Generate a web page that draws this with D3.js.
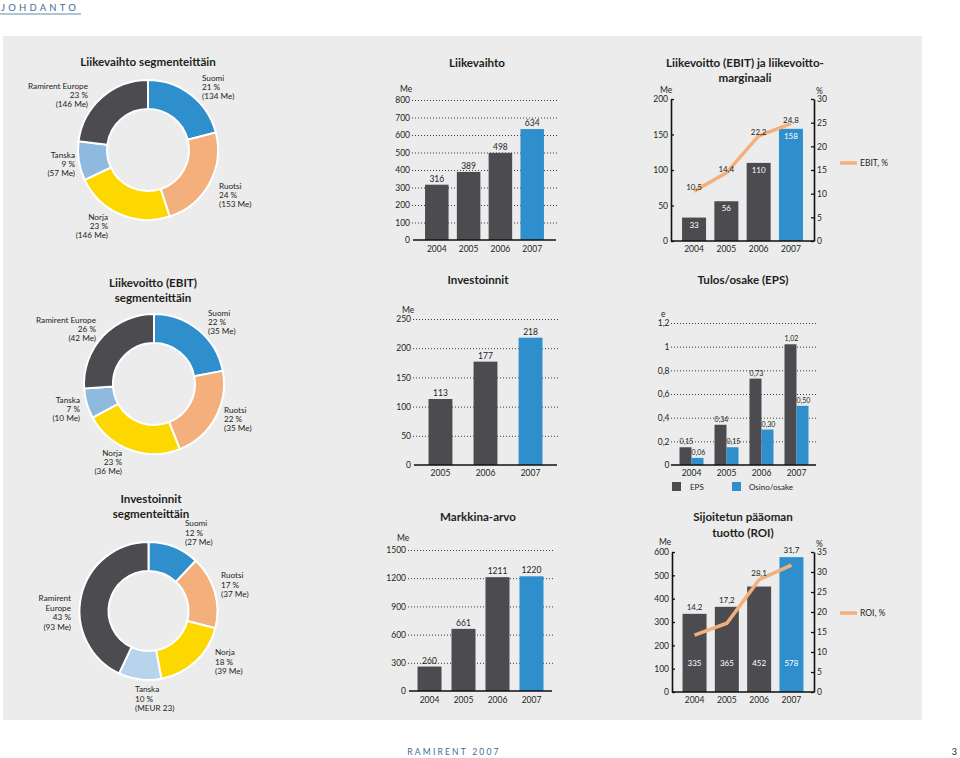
<!DOCTYPE html>
<html><head><meta charset="utf-8">
<script src="https://cdn.jsdelivr.net/npm/d3@7"></script>
<style>
html,body{margin:0;padding:0;background:#fff;}
svg{display:block;}
</style></head><body>
<svg id="c" width="960" height="758"></svg>
<script>
// ---------- DATA ----------
const segments = ["Suomi","Ruotsi","Norja","Tanska","Ramirent Europe"];
const revSegPct = [21,24,23,9,23];
const revSegMe = [134,153,146,57,146];
const ebitSegPct = [22,22,23,7,26];
const ebitSegMe = [35,35,36,10,42];
const invSegPct = [12,17,18,10,43];
const invSegMe = [27,37,39,23,93];
const years = ["2004","2005","2006","2007"];
const revenue = [316,389,498,634];
const revenueTicks = [0,100,200,300,400,500,600,700,800];
const ebit = [33,56,110,158];
const ebitMargin = [10.5,14.4,22.2,24.8];
const ebitTicks = [0,50,100,150,200];
const pctTicks30 = [0,5,10,15,20,25,30];
const investYears = ["2005","2006","2007"];
const investments = [113,177,218];
const investTicks = [0,50,100,150,200,250];
const eps = [0.15,0.34,0.73,1.02];
const dividend = [0.06,0.15,0.30,0.50];
const epsTicks = [0,0.2,0.4,0.6,0.8,1,1.2];
const epsSeries = ["EPS","Osino/osake"];
const marketCap = [260,661,1211,1220];
const marketTicks = [0,300,600,900,1200,1500];
const capital = [335,365,452,578];
const roi = [14.2,17.2,28.1,31.7];
const capitalTicks = [0,100,200,300,400,500,600];
const pctTicks35 = [0,5,10,15,20,25,30,35];

// ---------- STYLE ----------
const FONT = "Lato, 'Open Sans', sans-serif";
const C = {dark:"#4c4b50", blue:"#2f8fcd", peach:"#f3b07c", yellow:"#fdd800",
  lightblue:"#8fbae0", paleblue:"#b8d3ec", bg:"#ececec", text:"#231f20", line:"#f4b07c", brand:"#3d6d96"};
const comma = v => String(v).replace(".", ",");
const f1 = v => d3.format(".1f")(v).replace(".", ",");
const f2 = v => d3.format(".2f")(v).replace(".", ",");

const svg = d3.select("#c").style("font-family", FONT);

// header / footer / panel
svg.append("text").attr("x",1).attr("y",11).attr("fill",C.brand)
  .style("font-size","9.5px").style("letter-spacing","3.2px").text("JOHDANTO");
svg.append("line").attr("x1",0).attr("x2",81).attr("y1",14).attr("y2",14)
  .attr("stroke",C.brand).attr("stroke-width",0.8);
svg.append("rect").attr("x",3).attr("y",36).attr("width",919).attr("height",684).attr("fill",C.bg);
svg.append("text").attr("x",454).attr("y",755).attr("text-anchor","middle").attr("fill",C.brand)
  .style("font-size","8.5px").style("letter-spacing","2.2px").text("RAMIRENT 2007");
svg.append("text").attr("x",957).attr("y",755).attr("text-anchor","end").attr("fill",C.text)
  .style("font-size","9px").text("3");

function title(lines, x, y, lh){
  lines.forEach((t,i)=>svg.append("text").attr("x",x).attr("y",y+i*lh)
    .attr("text-anchor","middle").attr("fill",C.text)
    .style("font-size","11.6px").style("font-weight","bold").text(t));
}
function multi(lines, x, y, anchor, lh, size){
  const t = svg.append("text").attr("text-anchor",anchor).attr("fill",C.text).style("font-size",(size||8.2)+"px");
  lines.forEach((s,i)=>t.append("tspan").attr("x",x).attr("y",y+i*lh).text(s));
}

// ---------- DONUTS ----------
function donut(cx, cy, rOut, rIn, pct, me, colors, labelPos, meFmt){
  const g = svg.append("g").attr("transform",`translate(${cx},${cy})`);
  const pie = d3.pie().sort(null).value(d=>d)(pct);
  const arc = d3.arc().innerRadius(rIn).outerRadius(rOut);
  g.selectAll("path").data(pie).join("path").attr("d",arc)
    .attr("fill",(d,i)=>colors[i]).attr("stroke","#fff").attr("stroke-width",2);
  labelPos.forEach((p,i)=>{
    const nameLines = p.name || [segments[i]];
    const meTxt = meFmt ? meFmt(i) : `(${me[i]} Me)`;
    multi([...nameLines, `${pct[i]} %`, meTxt], p.x, p.y, p.a, p.lh || 9.2);
  });
}
const segColors1 = [C.blue,C.peach,C.yellow,C.lightblue,C.dark];
const segColors3 = [C.blue,C.peach,C.yellow,C.paleblue,C.dark];

title(["Liikevaihto segmenteittäin"],148,66,14);
donut(148,150,70,41,revSegPct,revSegMe,segColors1,[
  {x:202,y:81,a:"start"},{x:219,y:189,a:"start"},{x:108,y:220,a:"end"},
  {x:75,y:158,a:"end"},{x:88,y:89,a:"end"}]);

title(["Liikevoitto (EBIT)","segmenteittäin"],153,287,14.5);
donut(154,384,70,41,ebitSegPct,ebitSegMe,segColors1,[
  {x:208,y:316,a:"start"},{x:224,y:413,a:"start"},{x:122,y:456,a:"end"},
  {x:80,y:403,a:"end"},{x:96,y:323,a:"end"}]);

title(["Investoinnit","segmenteittäin"],151,503,14.5);
donut(148.5,611,69,40,invSegPct,invSegMe,segColors3,[
  {x:185,y:526,a:"start",lh:9.5},{x:221,y:578,a:"start",lh:9.5},{x:215,y:655,a:"start",lh:9.5},
  {x:135,y:692,a:"start",lh:9.5},{x:71,y:601,a:"end",lh:9.5,name:["Ramirent","Europe"]}],
  i => segments[i]==="Tanska" ? `(MEUR ${invSegMe[i]})` : `(${invSegMe[i]} Me)`);

// ---------- SIMPLE BAR CHARTS ----------
function styleAxisText(g, size){
  g.selectAll("text").attr("fill",C.text).style("font-size",(size||8.5)+"px").style("font-family",FONT);
}
function dottedGrid(y, ticks, x0, x1, fmt, pad){
  const ga = svg.append("g").attr("transform",`translate(${x0},0)`)
    .call(d3.axisLeft(y).tickValues(ticks).tickSize(-(x1-x0)).tickPadding(pad||2).tickFormat(fmt||comma));
  ga.select(".domain").remove();
  ga.selectAll(".tick line").attr("stroke","#3a3a3a").attr("stroke-width",1).attr("stroke-dasharray","1,2")
    .filter(d=>d===0).remove();
  styleAxisText(ga);
  return ga;
}
function xLabels(x, yBot, pad){
  const gx = svg.append("g").attr("transform",`translate(0,${yBot})`)
    .call(d3.axisBottom(x).tickSize(0).tickPadding(pad||6));
  gx.select(".domain").remove();
  styleAxisText(gx);
}
function baseline(x0,x1,y){
  svg.append("line").attr("x1",x0).attr("x2",x1).attr("y1",y).attr("y2",y)
    .attr("stroke","#111").attr("stroke-width",1.4);
}
function unitText(u){
  svg.append("text").attr("x",u.x).attr("y",u.y).attr("fill",C.text).style("font-size","8.5px").text(u.t);
}
function barChart(o){
  const y = d3.scaleLinear([0,o.max],[o.yBot,o.yTop]);
  const x = d3.scaleBand(o.cats,[o.x0,o.x1]).paddingInner(o.pi).paddingOuter(o.po);
  dottedGrid(y, o.ticks, o.x0, o.x1);
  unitText(o.unit);
  svg.append("g").selectAll("rect").data(o.vals).join("rect")
    .attr("x",(d,i)=>x(o.cats[i])).attr("width",x.bandwidth())
    .attr("y",d=>y(d)).attr("height",d=>o.yBot-y(d))
    .attr("fill",(d,i)=>i===o.vals.length-1?C.blue:C.dark);
  svg.append("g").selectAll("text").data(o.vals).join("text")
    .attr("x",(d,i)=>x(o.cats[i])+x.bandwidth()/2).attr("y",d=>y(d)-3)
    .attr("text-anchor","middle").attr("fill",C.text).style("font-size","8.5px").text(d=>d);
  xLabels(x, o.yBot, o.xPad);
  baseline(o.x0+1, o.x1-1, o.yBot);
}

title(["Liikevaihto"],477,67,14);
barChart({x0:412,x1:557,yTop:100,yBot:240,max:800,ticks:revenueTicks,cats:years,vals:revenue,
  pi:0.26,po:0.41,unit:{x:400,y:92,t:"Me"}});

title(["Investoinnit"],478,284,14);
barChart({x0:413,x1:558,yTop:319,yBot:465,max:250,ticks:investTicks,cats:investYears,vals:investments,
  pi:0.47,po:0.345,unit:{x:402,y:313,t:"Me"},xPad:5});

title(["Markkina-arvo"],478,521,14);
barChart({x0:408,x1:553,yTop:550,yBot:691,max:1500,ticks:marketTicks,cats:years,vals:marketCap,
  pi:0.294,po:0.28,unit:{x:397,y:541,t:"Me"}});

// ---------- EPS GROUPED ----------
(function(){
  const x0=671, x1=817, yTop=323, yBot=465;
  title(["Tulos/osake (EPS)"],743,284,14);
  const y = d3.scaleLinear([0,1.2],[yBot,yTop]);
  const x = d3.scaleBand(years,[x0,x1]).paddingInner(0.314).paddingOuter(0.243);
  const xi = d3.scaleBand(epsSeries,[0,x.bandwidth()]);
  dottedGrid(y, epsTicks, x0, x1, comma, 1.5);
  unitText({x:661,y:317,t:"e"});
  const series = [eps, dividend];
  const cols = [C.dark, C.blue];
  series.forEach((vals,s)=>{
    svg.append("g").selectAll("rect").data(vals).join("rect")
      .attr("x",(d,i)=>x(years[i])+xi(epsSeries[s])).attr("width",xi.bandwidth())
      .attr("y",d=>y(d)).attr("height",d=>yBot-y(d)).attr("fill",cols[s]);
    svg.append("g").selectAll("text").data(vals).join("text")
      .attr("x",(d,i)=>x(years[i])+xi(epsSeries[s])+xi.bandwidth()/2+1).attr("y",d=>y(d)-3)
      .attr("text-anchor","middle").attr("fill",C.text).style("font-size","7px").text(f2);
  });
  xLabels(x, yBot, 5);
  baseline(x0, x1-1, yBot);
  // legend
  const lg = [{x:672,tx:690},{x:732,tx:749}];
  lg.forEach((p,s)=>{
    svg.append("rect").attr("x",p.x).attr("y",482).attr("width",9).attr("height",9).attr("fill",cols[s]);
    svg.append("text").attr("x",p.tx).attr("y",490).attr("fill",C.text).style("font-size","8px").text(epsSeries[s]);
  });
})();

// ---------- COMBO (bars + line, dual axis) ----------
function combo(o){
  const yL = d3.scaleLinear([0,o.maxL],[o.yBot,o.yTop]);
  const yR = d3.scaleLinear([0,o.maxR],[o.yBot,o.yTop]);
  const x = d3.scaleBand(years,[o.x0,o.x1]).paddingInner(o.pi).paddingOuter(o.po);
  const cx = i => x(years[i]) + x.bandwidth()/2;
  svg.append("g").selectAll("rect").data(o.bars).join("rect")
    .attr("x",(d,i)=>x(years[i])).attr("width",x.bandwidth())
    .attr("y",d=>yL(d)).attr("height",d=>o.yBot-yL(d))
    .attr("fill",(d,i)=>i===o.bars.length-1?C.blue:C.dark);
  svg.append("g").selectAll("text").data(o.bars).join("text")
    .attr("x",(d,i)=>cx(i)).attr("y",d=>o.barLabelFixed ? o.yBot-26 : yL(d)+10)
    .attr("text-anchor","middle").attr("fill","#fff").style("font-size","8px").text(d=>d);
  const gl = svg.append("g").attr("transform",`translate(${o.x0},0)`)
    .call(d3.axisLeft(yL).tickValues(o.ticksL).tickSizeInner(-3).tickSizeOuter(0).tickPadding(3));
  const gr = svg.append("g").attr("transform",`translate(${o.x1},0)`)
    .call(d3.axisRight(yR).tickValues(o.ticksR).tickSizeInner(-3).tickSizeOuter(0).tickPadding(3));
  [gl,gr].forEach(g=>{
    g.selectAll("line").attr("stroke","#111").attr("stroke-width",1.3);
    g.select(".domain").attr("stroke","#111").attr("stroke-width",1.6);
    styleAxisText(g);
  });
  baseline(o.x0, o.x1, o.yBot);
  xLabels(x, o.yBot, 5);
  const line = d3.line().x((d,i)=>cx(i)).y(d=>yR(d));
  svg.append("path").datum(o.pcts).attr("d",line).attr("fill","none")
    .attr("stroke",C.line).attr("stroke-width",3.5);
  svg.append("g").selectAll("text").data(o.pcts).join("text")
    .attr("x",(d,i)=>cx(i))
    .attr("y",(d,i)=> o.pctAboveBar ? Math.min(yR(d), yL(o.bars[i]))-4 : yR(d)-1)
    .attr("text-anchor","middle").attr("fill",C.text).style("font-size","8px").text(f1);
  unitText(o.unitL); unitText(o.unitR);
  svg.append("line").attr("x1",o.legend.x).attr("x2",o.legend.x+17).attr("y1",o.legend.y).attr("y2",o.legend.y)
    .attr("stroke",C.line).attr("stroke-width",3.5);
  svg.append("text").attr("x",o.legend.x+20).attr("y",o.legend.y+3).attr("fill",C.text)
    .style("font-size","8.5px").text(o.legend.t);
}

title(["Liikevoitto (EBIT) ja liikevoitto-","marginaali"],745,67,15);
combo({x0:671,x1:814,yTop:99,yBot:241,maxL:200,maxR:30,ticksL:ebitTicks,ticksR:pctTicks30,
  bars:ebit,pcts:ebitMargin,pi:0.257,po:0.342,
  unitL:{x:660,y:93,t:"Me"},unitR:{x:816,y:94,t:"%"},legend:{x:840,y:163,t:"EBIT, %"}});

title(["Sijoitetun pääoman","tuotto (ROI)"],743,521,15.5);
combo({x0:672,x1:814,yTop:552,yBot:692,maxL:600,maxR:35,ticksL:capitalTicks,ticksR:pctTicks35,
  bars:capital,pcts:roi,pi:0.257,po:0.327,barLabelFixed:true,pctAboveBar:true,
  unitL:{x:659,y:545,t:"Me"},unitR:{x:816,y:547,t:"%"},legend:{x:840,y:613,t:"ROI, %"}});
</script></body></html>
